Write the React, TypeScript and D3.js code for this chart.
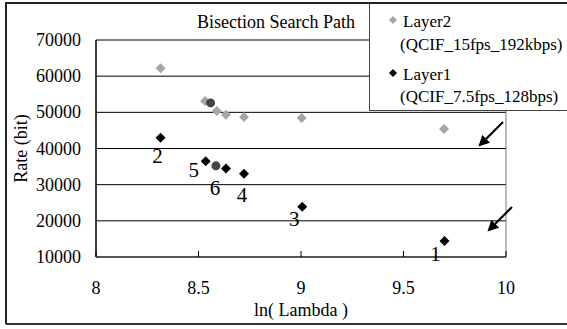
import React from "react";
import * as d3 from "d3";

// Layer2 (grey) rate vs ln(lambda)
const layer2X = [8.315, 8.532, 8.589, 8.634, 8.722, 9.003, 9.698];
const layer2Y = [62200, 53100, 50400, 49300, 48700, 48400, 45400];

// Layer1 (black) search path points, labelled by step
const layer1X = [9.70, 8.315, 9.006, 8.722, 8.535, 8.634];
const layer1Y = [14400, 43000, 23900, 33000, 36500, 34500];
const layer1Step = ["1", "2", "3", "4", "5", "6"];

// Converged points (dark circles)
const finalX = [8.559, 8.585];
const finalY = [52600, 35200];

const xTicks = [8, 8.5, 9, 9.5, 10];
const yTicks = [10000, 20000, 30000, 40000, 50000, 60000, 70000];

const legendNames = ["Layer2", "Layer1"];
const legendSubs = ["(QCIF_15fps_192kbps)", "(QCIF_7.5fps_128bps)"];

const FONT = "'Liberation Serif', 'Times New Roman', serif";

export default function App() {
  const W = 567, H = 329;
  const x = d3.scaleLinear().domain([8, 10]).range([96, 506]);
  const y = d3.scaleLinear().domain([10000, 70000]).range([257, 40]);
  const diamond = (cx: number, cy: number, r: number) =>
    `M${cx},${cy - r}L${cx + r},${cy}L${cx},${cy + r}L${cx - r},${cy}Z`;

  // label offsets per step (relative to point)
  const labelDx = [-9, -3, -8, -2, -12, -11];
  const labelDy = [20, 25, 19, 28, 16, 27];

  const arrows = [
    [503, 122, 480, 145],
    [512, 207, 489, 230],
  ];

  return (
    <svg width={W} height={H} style={{ position: "absolute", left: 0, top: 0 }} fontFamily={FONT}>
      <defs>
        <marker id="ah" viewBox="0 0 10 10" refX="8" refY="5" markerWidth="5" markerHeight="5" orient="auto">
          <path d="M0,0L10,5L0,10Z" fill="#000" />
        </marker>
      </defs>
      <rect x={0} y={0} width={W} height={H} fill="#fff" />
      {/* outer frame */}
      <path d={`M6,${H - 5}V3H${W}`} fill="none" stroke="#222" strokeWidth={2} />
      <line x1={6} x2={W} y1={324} y2={324} stroke="#333" strokeWidth={2} />

      {/* gridlines */}
      {yTicks.map((t) => (
        <line key={t} x1={x(8)} x2={x(10)} y1={y(t)} y2={y(t)} stroke="#000" strokeWidth={1} />
      ))}
      <line x1={x(10)} x2={x(10)} y1={y(70000)} y2={y(10000)} stroke="#777" strokeWidth={1} />
      <line x1={x(8)} x2={x(8)} y1={y(70000)} y2={y(10000)} stroke="#000" strokeWidth={1.5} />
      <line x1={x(8)} x2={x(10)} y1={y(10000)} y2={y(10000)} stroke="#555" strokeWidth={2} />
      {xTicks.map((t) => (
        <line key={t} x1={x(t)} x2={x(t)} y1={y(10000)} y2={y(10000) - 6} stroke="#000" strokeWidth={1} />
      ))}

      {/* y tick labels */}
      {yTicks.map((t) => (
        <text key={t} x={81} y={y(t) + 6} textAnchor="end" fontSize={18}>
          {t}
        </text>
      ))}
      {/* x tick labels */}
      {xTicks.map((t) => (
        <text key={t} x={x(t)} y={294} textAnchor="middle" fontSize={18}>
          {t}
        </text>
      ))}
      <text x={(x(8) + x(10)) / 2} y={316} textAnchor="middle" fontSize={18}>
        ln( Lambda )
      </text>
      <text transform={`translate(27,${(y(10000) + y(70000)) / 2}) rotate(-90)`} textAnchor="middle" fontSize={18}>
        Rate (bit)
      </text>
      <text x={276} y={28} textAnchor="middle" fontSize={18}>
        Bisection Search Path
      </text>

      {/* Layer2 points */}
      {layer2X.map((v, i) => (
        <path key={i} d={diamond(x(v), y(layer2Y[i]), 5)} fill="#a6a6a6" />
      ))}
      {/* Layer1 points */}
      {layer1X.map((v, i) => (
        <path key={i} d={diamond(x(v), y(layer1Y[i]), 5)} fill="#000" />
      ))}
      {/* converged points */}
      {finalX.map((v, i) => (
        <circle key={i} cx={x(v)} cy={y(finalY[i])} r={4.5} fill="#444" />
      ))}
      {/* step labels */}
      {layer1X.map((v, i) => (
        <text key={i} x={x(v) + labelDx[i]} y={y(layer1Y[i]) + labelDy[i]} textAnchor="middle" fontSize={21}>
          {layer1Step[i]}
        </text>
      ))}

      {/* arrows */}
      {arrows.map(([x1, y1, x2, y2], i) => (
        <line key={i} x1={x1} y1={y1} x2={x2} y2={y2} stroke="#000" strokeWidth={2.2} markerEnd="url(#ah)" />
      ))}

      {/* legend */}
      <rect x={369.5} y={3} width={W} height={107.5} fill="#fff" stroke="#444" strokeWidth={1} />
      <path d={`M369,3H${W}`} stroke="#222" strokeWidth={2} />
      {legendNames.map((n, i) => (
        <g key={n}>
          <path d={diamond(393, 20 + i * 53, 4)} fill={i === 0 ? "#a6a6a6" : "#000"} />
          <text x={403} y={27 + i * 53} fontSize={17}>{n}</text>
          <text x={400} y={50 + i * 52} fontSize={17}>{legendSubs[i]}</text>
        </g>
      ))}
    </svg>
  );
}
